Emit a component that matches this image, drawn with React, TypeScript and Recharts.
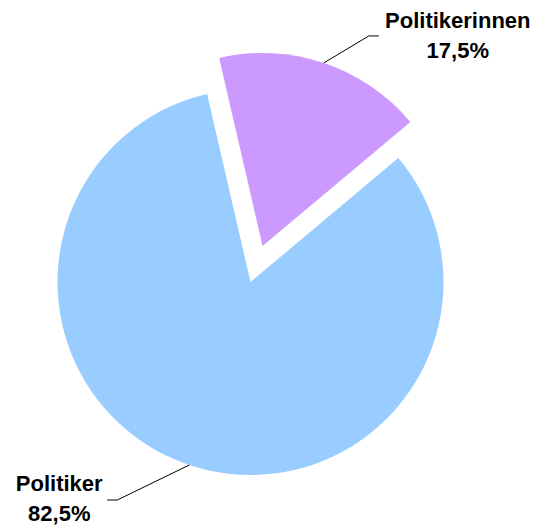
import React from 'react';
import { PieChart, Pie, Cell } from 'recharts';

const names = ['Politikerinnen', 'Politiker'];
const values = [17.5, 82.5];
const colors = ['#CC99FF', '#99CCFF'];

const W = 533;
const H = 526;
const CX = 250.5;
const CY = 282;
const R = 193;
const START = 103;
const EXPLODE = 38;
const RADIAN = Math.PI / 180;

const total = values.reduce((a, b) => a + b, 0);
const sweeps = values.map((v) => (v / total) * 360);
const pct = (v: number) => ((v / total) * 100).toFixed(1).replace('.', ',') + '%';

// label leader offsets per slice
const labelPos = [
  { dx: 45, dy: -27, hx: 10, tx: 79, ty: -8 },
  { dx: -72, dy: 35, hx: -10, tx: -48, ty: -9 },
];

const makeLabel = (i: number) => (props: any) => {
  const { cx, cy, midAngle, outerRadius } = props;
  const sx = cx + outerRadius * Math.cos(-midAngle * RADIAN);
  const sy = cy + outerRadius * Math.sin(-midAngle * RADIAN);
  const p = labelPos[i];
  const ex = sx + p.dx;
  const ey = sy + p.dy;
  const hx = ex + p.hx;
  const tx = hx + p.tx;
  const ty = ey + p.ty;
  return (
    <g>
      <polyline points={`${sx},${sy} ${ex},${ey} ${hx},${ey}`} fill="none" stroke="#000" strokeWidth={1} />
      <text x={tx} y={ty} textAnchor="middle" fontSize={22} fontWeight="bold" fill="#000"
        fontFamily="'Liberation Sans', Arial, sans-serif">
        <tspan x={tx} y={ty}>{names[i]}</tspan>
        <tspan x={tx} y={ty + 30}>{pct(values[i])}</tspan>
      </text>
    </g>
  );
};

export default function App() {
  const mid0 = (START - sweeps[0] / 2) * RADIAN;
  const cxA = CX + EXPLODE * Math.cos(mid0);
  const cyA = CY - EXPLODE * Math.sin(mid0);
  const dataA = [{ name: names[0], value: values[0] }];
  const dataB = [{ name: names[1], value: values[1] }];

  return (
    <div style={{ position: 'absolute', left: 0, top: 0, width: W, height: H, background: '#fff' }}>
      <PieChart width={W} height={H} margin={{ top: 0, right: 0, bottom: 0, left: 0 }}>
        <Pie
          data={dataA}
          dataKey="value"
          cx={cxA}
          cy={cyA}
          outerRadius={R}
          startAngle={START}
          endAngle={START - sweeps[0]}
          stroke="none"
          label={makeLabel(0)}
          labelLine={false}
          isAnimationActive={false}
        >
          <Cell fill={colors[0]} />
        </Pie>
        <Pie
          data={dataB}
          dataKey="value"
          cx={CX}
          cy={CY}
          outerRadius={R}
          startAngle={START - sweeps[0]}
          endAngle={START - 360}
          stroke="none"
          label={makeLabel(1)}
          labelLine={false}
          isAnimationActive={false}
        >
          <Cell fill={colors[1]} />
        </Pie>
      </PieChart>
    </div>
  );
}
